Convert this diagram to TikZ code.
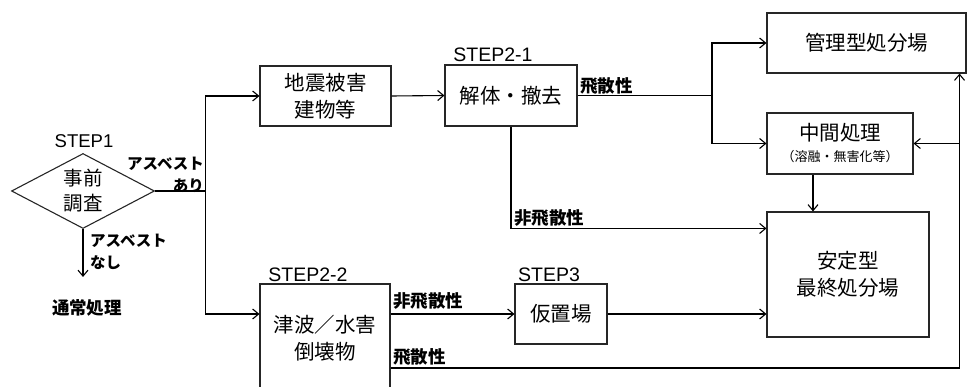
\documentclass[tikz,border=0pt]{standalone}
\usepackage{fontspec}
\setmainfont{Noto Sans CJK JP}
\newfontfamily\lat{Liberation Sans}
\usetikzlibrary{shapes.geometric,arrows.meta}
\begin{document}
\begin{tikzpicture}[x=1pt,y=-1pt,
  boxtext/.style={font=\fontsize{20.5}{27}\selectfont, align=center},
  box/.style={draw=black!85, line width=1.1pt, inner sep=0pt, boxtext},
  lbl/.style={font=\fontsize{17.5}{20}\selectfont\bfseries, inner sep=0pt},
  steplbl/.style={font=\lat\fontsize{19.5}{20}\selectfont, inner sep=0pt},
  arr/.style={line width=1.1pt, -{Straight Barb[length=6pt,width=10pt]}},
  ln/.style={line width=1.1pt}
]
\useasboundingbox (0,0) rectangle (970,387);

% nodes
\node[box, shape=diamond, aspect=1.9, minimum width=143pt, minimum height=75pt,
      font=\fontsize{19.5}{25}\selectfont] (dia) at (83,191) {事前\\調査};
\node[steplbl, font=\lat\fontsize{18.5}{20}\selectfont] (s1) at (84,141) {STEP1};
\node[box, minimum width=131pt, minimum height=60pt] (jishin) at (325.5,96) {地震被害\\建物等};
\node[box, minimum width=132pt, minimum height=61pt] (kaitai) at (511,95.5) {解体・撤去};
\node[steplbl] (s21) at (493,55) {STEP2-1};
\node[box, minimum width=199pt, minimum height=60pt] (kanri) at (866.5,43) {管理型処分場};
\node[box, minimum width=146pt, minimum height=61pt] (chukan) at (840,143.5)
  {中間処理\\[-6pt]{\fontsize{13}{15}\selectfont（溶融・無害化等）}};
\node[box, minimum width=162pt, minimum height=125pt] (antei) at (848,274.5) {安定型\\最終処分場};
\node[box, minimum width=130pt, minimum height=108pt] (tsunami) at (325,338) {津波／水害\\倒壊物};
\node[steplbl] (s22) at (308,275) {STEP2-2};
\node[box, minimum width=92pt, minimum height=60pt] (karioki) at (561,314) {仮置場};
\node[steplbl] (s3) at (549,275) {STEP3};
\node[lbl] (tsujo) at (87,308) {通常処理};

% labels
\node[lbl, align=right, anchor=east, font=\fontsize{15.5}{22}\selectfont\bfseries] (ari) at (204,175) {アスベスト\\あり};
\node[lbl, align=left, anchor=north west, font=\fontsize{15.5}{22}\selectfont\bfseries] (nashi) at (90,234) {アスベスト\\なし};
\node[lbl, anchor=south west] (l1) at (580,95) {飛散性};
\node[lbl, anchor=south west] (l2) at (514,227) {非飛散性};
\node[lbl, anchor=south west] (l3) at (393,310) {非飛散性};
\node[lbl, anchor=south west] (l4) at (393,366) {飛散性};

\coordinate (nashiend) at (83,277);
\coordinate (hsplit) at (712,95.5);

% connectors
\draw[ln] (dia.east) -- ++(50,0) coordinate (split);
\draw[arr] (split) |- (jishin.west);
\draw[arr] (split) |- (tsunami.west |- karioki.west);
\draw[arr] (dia.south) -- (nashiend);
\draw[arr] (jishin.east) -- (kaitai.west);
\draw[ln] (kaitai.east) -- (hsplit);
\draw[arr] (hsplit) |- (kanri.west);
\draw[arr] (hsplit) |- (chukan.west);
\draw[arr] (kaitai.south) |- ([yshift=-17pt]antei.north west);
\draw[arr] ([xshift=-27pt]chukan.south) -- ([xshift=-27pt]chukan.south |- antei.north);
\draw[arr] (tsunami.east |- karioki.west) -- (karioki.west);
\draw[arr] (karioki.east) -- (karioki.east -| antei.west);
\draw[arr] (tsunami.east |- 0,368) -| ([xshift=-7pt]kanri.south east);
\draw[arr] ([xshift=-7pt]kanri.south east |- chukan.east) -- (chukan.east);
\end{tikzpicture}
\end{document}
